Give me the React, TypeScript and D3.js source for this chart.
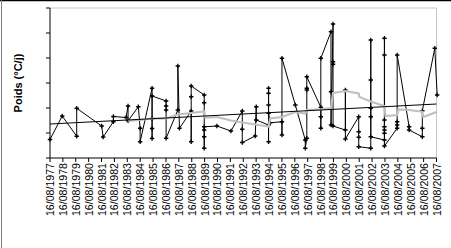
import React from 'react';
import * as d3 from 'd3';

// Observed series (black, with markers)
const obsDates: string[] = [
  '1977-08-16', '1978-07-28', '1979-09-12', '1979-09-12', '1981-08-20', '1981-10-01',
  '1982-07-18', '1982-07-18', '1983-07-12', '1983-09-07', '1983-09-07', '1984-06-25',
  '1984-08-14', '1984-08-14', '1985-07-19', '1985-07-19', '1985-07-19', '1985-07-19',
  '1985-07-19', '1986-08-21', '1986-08-21', '1986-08-21', '1986-08-21', '1987-07-19',
  '1987-07-19', '1987-09-03', '1988-08-01', '1988-08-01', '1988-08-01', '1988-08-01',
  '1989-08-05', '1989-08-05', '1989-08-05', '1989-08-05', '1989-08-05', '1989-08-05',
  '1990-07-31', '1991-09-01', '1992-07-19', '1992-07-19', '1992-07-19', '1993-07-22',
  '1993-08-19', '1993-08-19', '1994-08-03', '1994-08-03', '1994-08-03', '1994-08-03',
  '1994-08-03', '1994-08-03', '1994-09-20', '1995-08-18', '1995-08-18', '1995-08-18',
  '1996-08-31', '1997-06-09', '1997-06-09', '1997-07-22', '1997-07-22', '1997-07-22',
  '1997-07-22', '1998-08-24', '1998-08-24', '1998-08-24', '1998-08-24', '1999-06-08',
  '1999-06-08', '1999-06-08', '1999-08-05', '1999-08-05', '1999-08-05', '1999-08-05',
  '2000-07-20', '2000-07-20', '2000-07-20', '2001-08-02', '2001-08-02', '2001-08-02',
  '2001-08-02', '2002-07-10', '2002-07-10', '2002-07-10', '2002-07-10', '2002-07-10',
  '2002-07-10', '2003-08-01', '2003-08-01', '2003-08-01', '2003-08-01', '2003-08-01',
  '2003-08-01', '2003-08-01', '2003-08-01', '2004-07-27', '2004-07-27', '2004-07-27',
  '2004-07-27', '2005-07-01', '2005-07-01', '2006-07-10', '2006-07-10', '2006-07-10',
  '2007-06-28', '2007-09-04',
];
const obsValues: number[] = [
  0.74, 1.68, 0.87, 1.99, 1.28, 0.84,
  1.45, 1.66, 1.62, 2.08, 1.49, 2.05,
  1.19, 0.65, 2.79, 0.78, 1.18, 1.58,
  2.48, 2.28, 2.08, 1.92, 0.79, 1.92,
  3.68, 1.19, 1.88, 0.65, 2.45, 2.88,
  2.52, 2.21, 0.39, 0.85, 1.12, 1.25,
  1.28, 1.08, 1.88, 1.15, 0.62, 0.88,
  2.05, 1.52, 1.32, 0.65, 2.79, 2.59,
  2.12, 1.79, 1.41, 1.45, 0.92, 3.99,
  2.12, 0.72, 0.39, 0.79, 2.72, 2.79,
  3.25, 2.03, 1.65, 1.19, 3.99, 5.05,
  2.65, 1.32, 5.36, 3.85, 3.75, 1.28,
  1.12, 2.72, 0.76, 1.65, 1.05, 0.83,
  0.45, 0.39, 4.72, 3.12, 1.99, 1.65,
  0.85, 0.72, 4.79, 4.12, 1.52, 1.25,
  1.12, 0.99, 0.48, 1.19, 1.32, 1.45,
  4.12, 1.25, 1.12, 0.85, 1.19, 1.89,
  4.39, 2.52,
];

// Moving mean (light grey)
const avgDates: string[] = [
  '1983-09-07', '1984-08-14', '1985-07-19', '1986-08-21', '1987-07-19', '1988-08-01',
  '1989-08-05', '1989-09-05', '1990-07-31', '1991-09-01', '1992-07-19', '1993-07-22',
  '1994-08-03', '1994-09-20', '1995-08-18', '1996-08-31', '1997-06-09', '1997-07-22',
  '1998-08-24', '1999-06-08', '1999-08-05', '2000-07-20', '2001-08-02', '2001-08-22',
  '2002-07-10', '2003-08-01', '2003-08-29', '2004-07-27', '2004-08-31', '2005-07-01',
  '2006-07-10', '2006-08-08', '2007-09-04',
];
const avgValues: number[] = [
  1.49, 1.52, 1.58, 1.58, 1.74, 1.80,
  1.86, 1.62, 1.64, 1.50, 1.42, 1.34,
  1.26, 1.58, 1.64, 1.84, 1.78, 1.92,
  1.95, 2.00, 2.60, 2.68, 2.58, 2.44,
  2.26, 2.08, 1.68, 1.72, 1.94, 1.92,
  1.85, 1.64, 1.85,
];

// Linear trend
const trendDates: string[] = ['1977-08-16', '2007-08-16'];
const trendValues: number[] = [1.36, 2.16];

const tickYears: number[] = [
  1977, 1978, 1979, 1980, 1981, 1982, 1983, 1984, 1985, 1986, 1987, 1988, 1989, 1990, 1991,
  1992, 1993, 1994, 1995, 1996, 1997, 1998, 1999, 2000, 2001, 2002, 2003, 2004, 2005, 2006, 2007,
];
const yTicks: number[] = [0, 1, 2, 3, 4, 5, 6];
const yTitle = 'Poids (°C/j)';

const W = 451;
const H = 248;
const L = 50;
const R = 436.5;
const T = 8;
const B = 158;

const parse = d3.timeParse('%Y-%m-%d');

export default function App() {
  const x = d3
    .scaleTime()
    .domain([parse('1977-08-16') as Date, parse('2007-08-16') as Date])
    .range([L, R]);
  const y = d3.scaleLinear().domain([0, 6]).range([B, T]);

  const obs = obsDates.map((d, i) => ({ d: parse(d) as Date, v: obsValues[i] }));
  const avg = avgDates.map((d, i) => ({ d: parse(d) as Date, v: avgValues[i] }));
  const trend = trendDates.map((d, i) => ({ d: parse(d) as Date, v: trendValues[i] }));

  const line = d3
    .line<{ d: Date; v: number }>()
    .x((p) => x(p.d))
    .y((p) => y(p.v));

  const font = "'Liberation Sans', Arial, sans-serif";

  return (
    <svg
      width={W}
      height={H}
      style={{ position: 'absolute', left: 0, top: 0, background: '#fff' }}
    >
      <rect x={0} y={0} width={W} height={H} fill="#fff" />
      {/* outer frame */}
      <line x1={0} y1={0.5} x2={W} y2={0.5} stroke="#000" strokeWidth={1.5} />
      <line x1={1.5} y1={0} x2={1.5} y2={H} stroke="#808080" strokeWidth={1} />

      {/* plot area border (top & right) */}
      <line x1={L} y1={T} x2={R} y2={T} stroke="#c8c8c8" strokeWidth={1} />
      <line x1={R} y1={T} x2={R} y2={B} stroke="#c8c8c8" strokeWidth={1} />

      {/* y axis */}
      <line x1={L} y1={T} x2={L} y2={B} stroke="#000" strokeWidth={1} />
      {yTicks.map((t) => (
        <line key={t} x1={L - 4} x2={L} y1={y(t)} y2={y(t)} stroke="#000" strokeWidth={1} />
      ))}

      {/* x axis */}
      <line x1={L} y1={B} x2={R} y2={B} stroke="#000" strokeWidth={1} />
      {tickYears.map((yr) => {
        const px = x(new Date(yr, 7, 16));
        return (
          <g key={yr}>
            <line x1={px} x2={px} y1={B} y2={B + 4} stroke="#000" strokeWidth={1} />
            <text
              transform={`translate(${px},${B + 5}) rotate(-90)`}
              textAnchor="end"
              dominantBaseline="central"
              fontFamily={font}
              fontSize={10.6}
              fill="#000"
            >
              {`16/08/${yr}`}
            </text>
          </g>
        );
      })}

      {/* y title */}
      <text
        transform={`translate(18,${(T + B) / 2}) rotate(-90)`}
        textAnchor="middle"
        dominantBaseline="central"
        fontFamily={font}
        fontSize={11}
        fontWeight="bold"
        fill="#000"
      >
        {yTitle}
      </text>

      {/* observed series */}
      <path d={line(obs) || ''} fill="none" stroke="#000" strokeWidth={1} />
      {obs.map((p, i) => {
        const cx = x(p.d);
        const cy = y(p.v);
        return (
          <path
            key={i}
            d={`M${cx - 2.2},${cy}H${cx + 2.2}M${cx},${cy - 2.2}V${cy + 2.2}`}
            stroke="#000"
            strokeWidth={1.3}
          />
        );
      })}

      {/* moving mean */}
      <path d={line(avg) || ''} fill="none" stroke="#c0c0c0" strokeWidth={2.2} />

      {/* trend */}
      <path d={line(trend) || ''} fill="none" stroke="#000" strokeWidth={1} />
    </svg>
  );
}
